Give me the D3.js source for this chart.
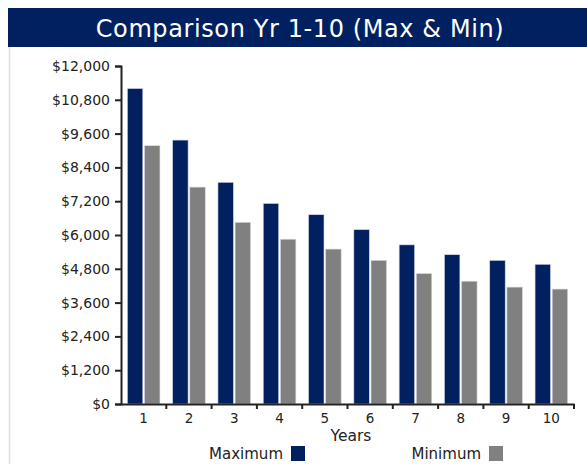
<!DOCTYPE html>
<html>
<head>
<meta charset="utf-8">
<script src="https://cdn.jsdelivr.net/npm/d3@7"></script>
<style>
  body { margin: 0; background: #fff; }
  text { font-family: "DejaVu Sans", sans-serif; }
</style>
</head>
<body>
<div id="chart"></div>
<script>
var years = ["1","2","3","4","5","6","7","8","9","10"];
var seriesNames = ["Maximum", "Minimum"];
var maxValues = [11200, 9370, 7870, 7120, 6720, 6190, 5650, 5300, 5100, 4960];
var minValues = [9170, 7700, 6450, 5850, 5500, 5100, 4630, 4360, 4150, 4080];
var yTicks = [0, 1200, 2400, 3600, 4800, 6000, 7200, 8400, 9600, 10800, 12000];
var colors = ["#002060", "#808080"];
var fontFam = "DejaVu Sans, sans-serif";

var svg = d3.select("#chart").append("svg").attr("width", 587).attr("height", 464);

// title banner
svg.append("rect").attr("x", 8).attr("y", 8).attr("width", 579).attr("height", 39).attr("fill", "#002060");
svg.append("text").attr("x", 300).attr("y", 37).attr("text-anchor", "middle")
   .attr("fill", "#fff").attr("font-size", 24).attr("letter-spacing", 0.6)
   .text("Comparison Yr 1-10 (Max & Min)");
svg.append("line").attr("x1", 9.5).attr("x2", 9.5).attr("y1", 47).attr("y2", 464)
   .attr("stroke", "#e0e0e0").attr("stroke-width", 1.5);

var x0 = d3.scaleBand().domain(years).range([121, 574]).padding(0);
var x1 = d3.scaleBand().domain(seriesNames).range([0, x0.bandwidth()])
           .paddingInner(0.1).paddingOuter(0.37);
var y = d3.scaleLinear().domain([0, 12000]).range([404, 66]);

var data = years.map(function(d, i){
  return {year: d, vals: [maxValues[i], minValues[i]]};
});

var groups = svg.selectAll("g.grp").data(data).enter().append("g")
  .attr("class", "grp")
  .attr("transform", function(d){ return "translate(" + x0(d.year) + ",0)"; });

groups.selectAll("rect").data(function(d){
    return d.vals.map(function(v, j){ return {name: seriesNames[j], v: v, c: colors[j]}; });
  }).enter().append("rect")
  .attr("x", function(d){ return x1(d.name); })
  .attr("y", function(d){ return y(d.v); })
  .attr("width", x1.bandwidth())
  .attr("height", function(d){ return 404 - y(d.v); })
  .attr("fill", function(d){ return d.c; })
  .attr("stroke", "#d4d8e4").attr("stroke-width", 0.6);

// y axis
var yAxis = d3.axisLeft(y).tickValues(yTicks).tickSizeOuter(0).tickSize(6)
  .tickFormat(function(d){ return "$" + d3.format(",")(d); });
var gy = svg.append("g").attr("transform", "translate(121,0)").call(yAxis);
gy.select(".domain").attr("stroke", "#222").attr("stroke-width", 2);
gy.selectAll(".tick line").attr("stroke", "#222").attr("stroke-width", 2);
gy.selectAll(".tick text").attr("font-size", 14).attr("fill", "#222").attr("x", -11)
  .attr("font-family", fontFam);

// x axis: ticks on band boundaries
var xAxis = d3.axisBottom(x0).tickSize(0);
var gx = svg.append("g").attr("transform", "translate(0,404)").call(xAxis);
gx.select(".domain").attr("stroke", "#222").attr("stroke-width", 2);
gx.selectAll(".tick text").attr("font-size", 13.5).attr("fill", "#222").attr("dy", "1.2em")
  .attr("font-family", fontFam);
gx.selectAll(".bound").data(years).enter().append("line")
  .attr("x1", function(d){ return x0(d) + x0.bandwidth(); })
  .attr("x2", function(d){ return x0(d) + x0.bandwidth(); })
  .attr("y1", 0).attr("y2", 5).attr("stroke", "#222").attr("stroke-width", 2);

svg.append("text").attr("x", 351).attr("y", 441).attr("text-anchor", "middle")
   .attr("font-size", 15.5).attr("fill", "#222").text("Years");

// legend
var legX = [283, 481];
seriesNames.forEach(function(n, i){
  svg.append("text").attr("x", legX[i]).attr("y", 459).attr("text-anchor", "end")
     .attr("font-size", 15).attr("fill", "#222").text(n);
  svg.append("rect").attr("x", legX[i] + 8).attr("y", 446).attr("width", 14).attr("height", 15)
     .attr("fill", colors[i]);
});
</script>
</body>
</html>
